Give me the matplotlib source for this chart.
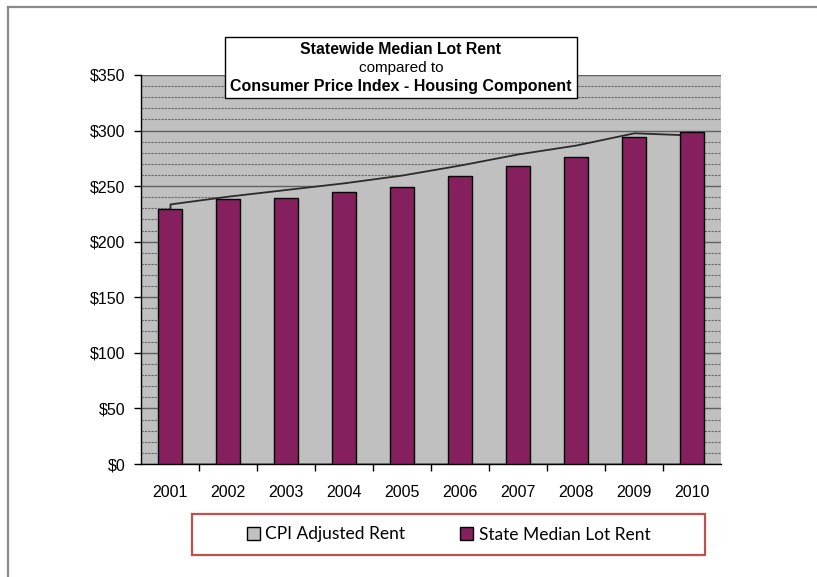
import numpy as np
import matplotlib.pyplot as plt
from matplotlib.patches import Patch, Rectangle
from matplotlib.lines import Line2D
from matplotlib.ticker import MultipleLocator, FuncFormatter

# datos
years = ['2001', '2002', '2003', '2004', '2005', '2006', '2007', '2008', '2009', '2010']
lot_rent = [229, 238, 239, 245, 249, 259, 268, 276, 294, 299]
cpi_rent = [234, 241, 247, 253, 260, 269, 279, 287, 298, 296]

W, H = 817, 577
fig = plt.figure(figsize=(W / 100, H / 100), dpi=100)
fig.patch.set_facecolor('white')
plt.rcParams['font.family'] = ['Liberation Sans', 'DejaVu Sans']

ax = fig.add_axes([141 / W, 1 - 464 / H, (721 - 141) / W, (464 - 75) / H])
ax.set_facecolor('#c0c0c0')
ax.set_axisbelow(True)

x = np.arange(len(years))
# area del CPI (mismo gris que el fondo, tapa la grilla)
ax.fill_between(x, 0, cpi_rent, facecolor='#c0c0c0', edgecolor='#2b2b2b',
                linewidth=1.3, zorder=1.5)
ax.bar(x, lot_rent, width=0.41, color='#861f5e', edgecolor='black',
       linewidth=1.0, zorder=3)

ax.set_xlim(-0.5, len(years) - 0.5)
ax.set_ylim(0, 350)

ax.yaxis.set_major_locator(MultipleLocator(50))
ax.yaxis.set_minor_locator(MultipleLocator(10))
ax.yaxis.set_major_formatter(FuncFormatter(lambda v, p: '${:.0f}'.format(v)))
ax.grid(axis='y', which='major', color='#606060', linestyle='-', linewidth=1.0)
ax.grid(axis='y', which='minor', color='#666666', linestyle=(0, (2, 1)), linewidth=0.8)
ax.tick_params(axis='y', which='major', direction='out', length=5, width=1,
               labelsize=11.5, colors='black', pad=6)
ax.tick_params(axis='y', which='minor', length=0)

# ticks en los bordes de categoria, etiquetas en el centro
ax.set_xticks(np.arange(0.5, len(years) - 0.5, 1.0))
ax.set_xticklabels([])
ax.set_xticks(x, minor=True)
ax.set_xticklabels(years, minor=True)
ax.tick_params(axis='x', which='major', direction='out', length=5, width=1)
ax.tick_params(axis='x', which='minor', length=0, labelsize=11.5, pad=15)

for s in ['top', 'right']:
    ax.spines[s].set_visible(False)
for s in ['left', 'bottom']:
    ax.spines[s].set_color('black')
    ax.spines[s].set_linewidth(1.0)

# cuadro del titulo
fig.add_artist(Rectangle((225 / W, 1 - 98 / H), (577 - 225) / W, (98 - 37) / H,
                         transform=fig.transFigure, facecolor='white',
                         edgecolor='black', linewidth=1.0, zorder=5))
fig.text(401 / W, 1 - 50 / H, 'Statewide Median Lot Rent', ha='center', va='center',
         fontsize=11.3, fontweight='bold', zorder=6)
fig.text(401 / W, 1 - 68 / H, 'compared to', ha='center', va='center',
         fontsize=11, zorder=6)
fig.text(401 / W, 1 - 86.5 / H, 'Consumer Price Index - Housing Component', ha='center',
         va='center', fontsize=11.5, fontweight='bold', zorder=6)

# leyenda con marco rojo
fig.add_artist(Rectangle((192 / W, 1 - 555 / H), (705 - 192) / W, (555 - 514) / H,
                         transform=fig.transFigure, facecolor='white',
                         edgecolor='#c0504d', linewidth=1.6, zorder=5))
handles = [Patch(facecolor='#c0c0c0', edgecolor='black', linewidth=1.0, label='CPI Adjusted Rent'),
           Patch(facecolor='#861f5e', edgecolor='black', linewidth=1.0, label='State Median Lot Rent')]
leg = fig.legend(handles=handles, loc='center', bbox_to_anchor=(448.5 / W, 1 - 534.5 / H),
                 ncol=2, frameon=False, handlelength=0.75, handleheight=0.75,
                 handletextpad=0.3, columnspacing=3.2,
                 prop={'family': 'Lato', 'size': 12.5})
leg.set_zorder(6)

# borde gris de la imagen
fig.add_artist(Line2D([8 / W, 1], [1 - 7 / H, 1 - 7 / H], transform=fig.transFigure,
                      color='#8a8a8a', linewidth=1.6))
fig.add_artist(Line2D([8 / W, 8 / W], [0, 1 - 7 / H], transform=fig.transFigure,
                      color='#8a8a8a', linewidth=1.6))

fig.savefig('out.png', dpi=100)
